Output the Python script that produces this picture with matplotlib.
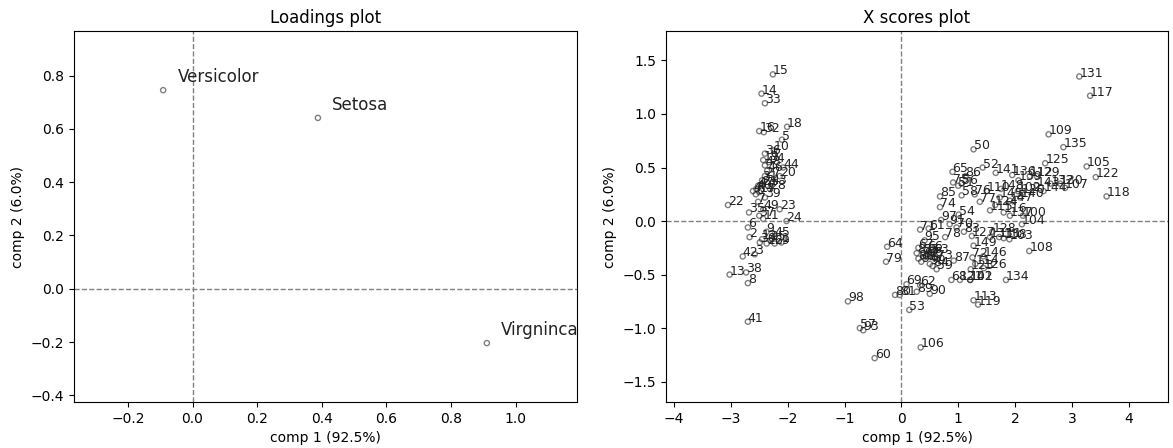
import matplotlib
matplotlib.use("Agg")
import matplotlib.pyplot as plt
import numpy as np

# Y loadings (one per class)
load_names = ["Setosa", "Versicolor", "Virgninca"]
load_x = [0.388, -0.091, 0.911]
load_y = [0.641, 0.745, -0.204]

# X scores, sample index 0..149
score_labels = list(range(150))
score_x = [
    -2.56, -2.11, -2.67, -2.58, -2.61, -2.10, -2.70, -2.52, -2.70, -2.37,
    -2.24, -2.43, -2.45, -3.02, -2.46, -2.26, -2.50, -2.50, -2.01, -2.43,
    -2.14, -2.45, -3.05, -2.14, -2.02, -2.30, -2.37, -2.40, -2.31, -2.23,
    -2.49, -2.45, -2.42, -2.40, -2.33, -2.68, -2.40, -2.50, -2.73, -2.40,
    -2.55, -2.70, -2.79, -2.28, -2.08, -2.23, -2.36, -2.52, -2.40, -2.43,
    1.27, 1.00, 1.43, 0.14, 1.01, 0.38, 1.06, -0.73, 1.06, 0.62,
    -0.47, 0.48, 0.33, 0.55, -0.25, 0.90, 0.45, 0.30, 0.88, 0.09,
    0.97, 0.33, 1.25, 0.62, 0.68, 0.91, 1.29, 1.38, 0.77, -0.27,
    -0.11, -0.03, 0.27, 1.10, 0.55, 0.68, 1.13, 0.92, 0.30, 0.27,
    0.50, 0.85, 0.40, -0.67, 0.35, 0.41, 0.46, 0.70, -0.94, 0.50,
    2.14, 1.21, 2.05, 1.90, 2.12, 3.26, 0.34, 2.88, 2.25, 2.59,
    1.50, 1.72, 2.26, 1.27, 1.30, 1.56, 1.80, 3.32, 3.61, 1.35,
    2.12, 1.03, 3.42, 1.22, 1.65, 2.53, 1.45, 1.24, 1.60, 2.38,
    2.79, 3.13, 2.62, 1.56, 1.84, 2.85, 1.95, 1.91, 1.80, 2.06,
    2.09, 1.66, 1.21, 2.38, 2.50, 1.73, 1.44, 1.91, 1.75, 1.27,
]
score_y = [
    0.25, -0.20, -0.15, -0.31, 0.28, 0.76, -0.06, 0.18, -0.58, -0.10,
    0.66, 0.02, -0.17, -0.50, 1.19, 1.37, 0.84, 0.27, 0.88, 0.57,
    0.42, 0.34, 0.15, 0.11, 0.00, -0.18, -0.21, 0.42, 0.30, -0.21,
    -0.20, 0.38, 0.83, 1.10, 0.55, 0.08, 0.63, 0.05, -0.48, 0.22,
    0.30, -0.94, -0.33, 0.35, 0.50, -0.14, 0.47, 0.33, 0.52, 0.11,
    0.67, 0.33, 0.50, -0.83, 0.06, -0.30, 0.35, -1.00, 0.24, -0.45,
    -1.28, -0.07, -0.60, -0.30, -0.24, 0.46, -0.27, -0.25, -0.55, -0.59,
    -0.06, -0.08, -0.34, -0.35, 0.13, 0.36, 0.25, 0.18, -0.15, -0.38,
    -0.69, -0.69, -0.30, -0.10, -0.42, 0.23, 0.42, -0.37, -0.35, -0.66,
    -0.68, -0.03, -0.34, -1.02, -0.38, -0.18, -0.33, 0.01, -0.75, -0.40,
    0.05, -0.55, 0.28, -0.17, -0.03, 0.51, -1.18, 0.31, -0.28, 0.81,
    0.28, -0.15, 0.42, -0.74, -0.40, 0.10, 0.08, 1.17, 0.23, -0.78,
    0.26, -0.55, 0.41, -0.45, 0.15, 0.54, -0.44, -0.14, -0.10, 0.42,
    0.35, 1.35, 0.35, -0.15, -0.55, 0.69, 0.43, 0.05, -0.16, 0.38,
    0.22, 0.45, -0.55, 0.33, 0.28, 0.22, -0.33, 0.19, 0.30, -0.23,
]

W, H = 1173, 448
fig = plt.figure(figsize=(W / 100, H / 100), dpi=100)
ax1 = fig.add_axes([74 / W, (H - 402) / H, (577 - 74) / W, (402 - 31) / H])
ax2 = fig.add_axes([666 / W, (H - 402) / H, (1168 - 666) / W, (402 - 31) / H])

# Loadings plot
ax1.scatter(load_x, load_y, facecolors='none', edgecolors='k', alpha=0.5, s=14)
for name, x, y in zip(load_names, load_x, load_y):
    ax1.annotate(name, (x, y), xytext=(x + 0.044, y + 0.03), fontsize=12, color='#222222')
ax1.axhline(0, color='gray', ls='--', lw=1)
ax1.axvline(0, color='gray', ls='--', lw=1)
ax1.set_xlim(-0.367, 1.19)
ax1.set_ylim(-0.425, 0.967)
ax1.set_xlabel('comp 1 (92.5%)')
ax1.set_ylabel('comp 2 (6.0%)')
ax1.set_title('Loadings plot')

# X scores plot
ax2.scatter(score_x, score_y, facecolors='none', edgecolors='k', alpha=0.5, s=14)
for lbl, x, y in zip(score_labels, score_x, score_y):
    ax2.annotate(str(lbl), (x, y), fontsize=9, color='#222222')
ax2.axhline(0, color='gray', ls='--', lw=1)
ax2.axvline(0, color='gray', ls='--', lw=1)
ax2.set_xlim(-4.14, 4.69)
ax2.set_ylim(-1.69, 1.775)
ax2.set_xlabel('comp 1 (92.5%)')
ax2.set_ylabel('comp 2 (6.0%)')
ax2.set_title('X scores plot')

fig.savefig('out.png', dpi=100)
